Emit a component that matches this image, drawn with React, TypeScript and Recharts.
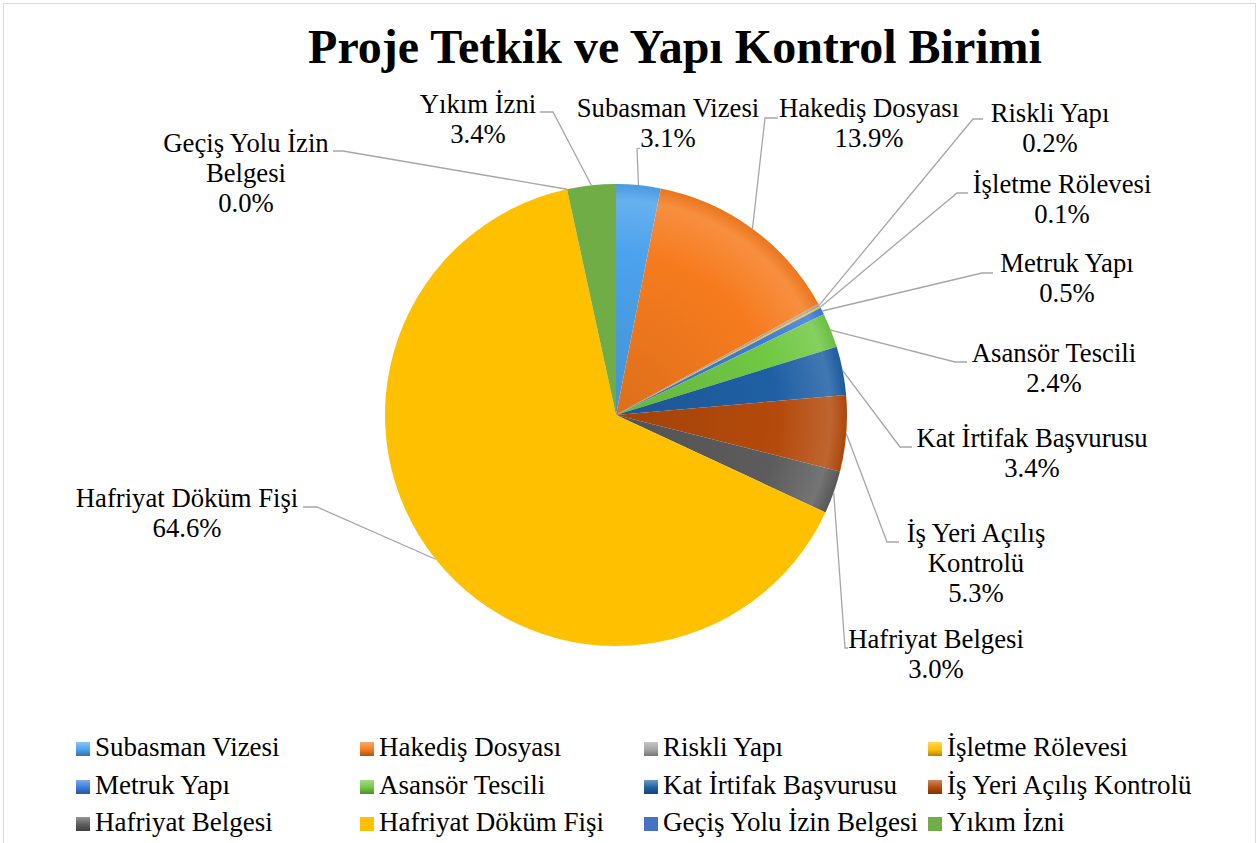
import React from 'react'
import { PieChart, Pie, Cell, Legend } from 'recharts'

const CATEGORIES = [
  'Subasman Vizesi',
  'Hakediş Dosyası',
  'Riskli Yapı',
  'İşletme Rölevesi',
  'Metruk Yapı',
  'Asansör Tescili',
  'Kat İrtifak Başvurusu',
  'İş Yeri Açılış Kontrolü',
  'Hafriyat Belgesi',
  'Hafriyat Döküm Fişi',
  'Geçiş Yolu İzin Belgesi',
  'Yıkım İzni',
]

// share of each category, in percent
const SHARES = [3.1, 13.9, 0.2, 0.1, 0.5, 2.4, 3.4, 5.3, 3.0, 64.6, 0.0, 3.4]

const COLORS = [
  '#4CA2EC',
  '#F67B1E',
  '#A5A5A5',
  '#FFC000',
  '#3A7BDB',
  '#70C843',
  '#1F60A4',
  '#B44A0B',
  '#5C5C5C',
  '#FFC000',
  '#4472C4',
  '#70AD47',
]

// slices drawn with the bevel look (the last three are flat)
const BEVELED = [true, true, true, true, true, true, true, true, true, false, false, false]

const TITLE = 'Proje Tetkik ve Yapı Kontrol Birimi'

const FONT = '"Liberation Serif", "Times New Roman", serif'
const CX = 616
const CY = 415
const R = 231
const RADIAN = Math.PI / 180

// where each data label sits: text centre x, first baseline, line breaks, leader start + elbow
const LABEL_LAYOUT: Record<number, { x: number; y: number; lines: string[]; start: [number, number]; elbow: [number, number] }> = {
  0: { x: 668, y: 117, lines: ['Subasman Vizesi'], start: [640, 148], elbow: [637, 149] },
  1: { x: 869, y: 117, lines: ['Hakediş Dosyası'], start: [778, 118], elbow: [765, 118] },
  2: { x: 1050, y: 122, lines: ['Riskli Yapı'], start: [983, 119], elbow: [973, 119] },
  3: { x: 1062, y: 193, lines: ['İşletme Rölevesi'], start: [968, 193], elbow: [957, 193] },
  4: { x: 1067, y: 272, lines: ['Metruk Yapı'], start: [993, 273], elbow: [982, 273] },
  5: { x: 1054, y: 362, lines: ['Asansör Tescili'], start: [967, 362], elbow: [955, 362] },
  6: { x: 1032, y: 447, lines: ['Kat İrtifak Başvurusu'], start: [912, 447], elbow: [900, 447] },
  7: { x: 976, y: 542, lines: ['İş Yeri Açılış', 'Kontrolü'], start: [899, 542], elbow: [887, 542] },
  8: { x: 936, y: 648, lines: ['Hafriyat Belgesi'], start: [848, 648], elbow: [845, 648] },
  9: { x: 187, y: 507, lines: ['Hafriyat Döküm Fişi'], start: [303, 507], elbow: [317, 507] },
  10: { x: 246, y: 152, lines: ['Geçiş Yolu İzin', 'Belgesi'], start: [333, 151], elbow: [343, 151] },
  11: { x: 478, y: 113, lines: ['Yıkım İzni'], start: [540, 112], elbow: [553, 112] },
}

const data = CATEGORIES.map((name, i) => ({ name, value: SHARES[i] }))

function mix(hex: string, target: number, t: number) {
  const n = parseInt(hex.slice(1), 16)
  const ch = [(n >> 16) & 255, (n >> 8) & 255, n & 255].map((c) => Math.round(c + (target - c) * t))
  return `rgb(${ch[0]},${ch[1]},${ch[2]})`
}

function renderLabel(props: any) {
  const { cx, cy, midAngle, outerRadius, index } = props
  const lay = LABEL_LAYOUT[index]
  if (!lay) return null
  const ex = cx + outerRadius * Math.cos(-midAngle * RADIAN)
  const ey = cy + outerRadius * Math.sin(-midAngle * RADIAN)
  const lines = [...lay.lines, `${SHARES[index].toFixed(1)}%`]
  return (
    <g key={`lbl-${index}`}>
      <path
        d={`M${lay.start[0]},${lay.start[1]}L${lay.elbow[0]},${lay.elbow[1]}L${ex},${ey}`}
        stroke="#A6A6A6"
        strokeWidth={1.3}
        fill="none"
      />
      <text x={lay.x} y={lay.y} textAnchor="middle" fontFamily={FONT} fontSize={26.7} fill="#000">
        {lines.map((l, i) => (
          <tspan key={i} x={lay.x} dy={i === 0 ? 0 : 30}>
            {l}
          </tspan>
        ))}
      </text>
    </g>
  )
}

function LegendGrid(props: any) {
  const payload = props.payload || []
  const names: string[] = payload.length ? payload.map((p: any) => p.value) : [...CATEGORIES]
  // keep the data order, not the alphabetical one
  names.sort((a, b) => CATEGORIES.indexOf(a) - CATEGORIES.indexOf(b))
  return (
    <div style={{ position: 'relative', width: 1259, height: 118 }}>
      {names.map((name: string, i: number) => {
        const idx = CATEGORIES.indexOf(name)
        const col = i % 4
        const row = Math.floor(i / 4)
        const color = COLORS[idx]
        const bg = BEVELED[idx]
          ? `linear-gradient(to bottom, ${mix(color, 255, 0.35)} 0%, ${color} 55%, ${mix(color, 0, 0.3)} 100%)`
          : color
        return (
          <div
            key={name}
            style={{ position: 'absolute', left: 76 + col * 284, top: row * 37.5, height: 27, display: 'flex' }}
          >
            <div style={{ width: 14, height: 14, marginTop: 8, background: bg }} />
            <span style={{ marginLeft: 5, fontFamily: FONT, fontSize: 27, lineHeight: '27px', color: '#000', whiteSpace: 'nowrap' }}>
              {name}
            </span>
          </div>
        )
      })}
    </div>
  )
}

export default function App() {
  return (
    <div style={{ position: 'absolute', left: 0, top: 0, width: 1259, height: 843, background: '#fff', overflow: 'hidden' }}>
      <svg width={0} height={0} style={{ position: 'absolute' }}>
        <defs>
          {COLORS.map((c, i) => (
            <radialGradient key={i} id={`bev-${i}`} gradientUnits="userSpaceOnUse" cx={CX} cy={CY} r={R}>
              <stop offset="0%" stopColor={mix(c, 0, 0.1)} />
              <stop offset="70%" stopColor={c} />
              <stop offset="93%" stopColor={mix(c, 255, 0.15)} />
              <stop offset="100%" stopColor={mix(c, 0, 0.05)} />
            </radialGradient>
          ))}
        </defs>
      </svg>
      <div
        style={{ position: 'absolute', left: 3, top: 3, width: 1251, height: 850, border: '1px solid #D9D9D9' }}
      />
      <div
        style={{
          position: 'absolute',
          left: 0,
          top: 23,
          width: 1350,
          textAlign: 'center',
          fontFamily: FONT,
          fontWeight: 'bold',
          fontSize: 48,
          lineHeight: '48px',
          color: '#000',
          whiteSpace: 'nowrap',
        }}
      >
        {TITLE}
      </div>
      <div style={{ position: 'absolute', left: 0, top: 0 }}>
        <PieChart width={1259} height={843} margin={{ top: 0, right: 0, bottom: 0, left: 0 }}>
          <Pie
            data={data}
            dataKey="value"
            nameKey="name"
            cx={CX}
            cy={CY}
            outerRadius={R}
            startAngle={90}
            endAngle={-270}
            stroke="none"
            label={renderLabel}
            labelLine={false}
            isAnimationActive={false}
          >
            {data.map((d, i) => (
              <Cell key={d.name} fill={BEVELED[i] ? `url(#bev-${i})` : COLORS[i]} />
            ))}
          </Pie>
          <Legend
            layout="horizontal"
            verticalAlign="middle"
            align="center"
            content={<LegendGrid />}
            wrapperStyle={{ left: 0, top: 734, width: 1259, height: 118 }}
          />
        </PieChart>
      </div>
    </div>
  )
}
